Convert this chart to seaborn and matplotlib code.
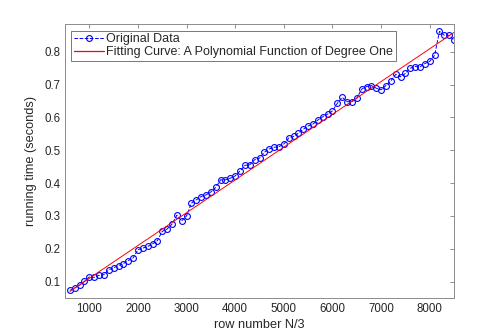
import seaborn as sns
import matplotlib.pyplot as plt
import numpy as np
import pandas as pd

# row numbers (N/3) and measured running times
row_number = list(range(600, 8600, 100))
running_time = [
    0.073, 0.081, 0.089, 0.101, 0.114, 0.113, 0.119, 0.121, 0.136, 0.142,
    0.149, 0.155, 0.164, 0.172, 0.197, 0.202, 0.207, 0.215, 0.225, 0.253,
    0.260, 0.275, 0.302, 0.285, 0.300, 0.339, 0.349, 0.359, 0.364, 0.373,
    0.387, 0.410, 0.410, 0.415, 0.422, 0.437, 0.454, 0.456, 0.471, 0.476,
    0.494, 0.504, 0.509, 0.511, 0.519, 0.537, 0.542, 0.552, 0.564, 0.574,
    0.580, 0.592, 0.602, 0.610, 0.620, 0.643, 0.661, 0.648, 0.648, 0.658,
    0.686, 0.694, 0.697, 0.689, 0.684, 0.697, 0.711, 0.731, 0.724, 0.734,
    0.750, 0.755, 0.754, 0.764, 0.771, 0.789, 0.862, 0.850, 0.850, 0.835,
]
xticks = [1000, 2000, 3000, 4000, 5000, 6000, 7000, 8000]
yticks = [0.1, 0.2, 0.3, 0.4, 0.5, 0.6, 0.7, 0.8]
labels = ["Original Data", "Fitting Curve: A Polynomial Function of Degree One"]

df = pd.DataFrame({"x": row_number, "y": running_time})
# first degree polynomial fit
p = np.polyfit(df.x, df.y, 1)
df["fit"] = np.polyval(p, df.x)

sns.set_style("white")
plt.rcParams['font.family'] = ['Liberation Sans', 'DejaVu Sans']

fig = plt.figure(figsize=(5.02, 3.35), dpi=100)
ax = fig.add_axes([0.1295, 0.1104, 0.775, 0.8165])

sns.lineplot(data=df, x="x", y="y", ax=ax, color="blue", linestyle="--",
             linewidth=0.7, marker="o", markersize=4.2, markerfacecolor="none",
             markeredgecolor="blue", markeredgewidth=0.8)
data_line = ax.lines[-1]
sns.lineplot(data=df, x="x", y="fit", ax=ax, color="red", linewidth=0.7)
fit_line = ax.lines[-1]

ax.set_xlim(500, 8500)
ax.set_ylim(0.05, 0.883)
ax.set_xticks(xticks)
ax.set_yticks(yticks)
ax.set_xticklabels([str(t) for t in xticks])
ax.set_yticklabels([f"{t:g}" for t in yticks])
ax.tick_params(direction="in", length=3, width=0.6, colors="#7a7a7a",
               labelcolor="#262626", labelsize=8.3, top=True, right=True)
for s in ax.spines.values():
    s.set_color("#8c8c8c")
    s.set_linewidth(0.7)

ax.set_xlabel("row number N/3", fontsize=9.2, color="#262626", labelpad=3)
ax.set_ylabel("running time (seconds)", fontsize=9.2, color="#262626", labelpad=5)

leg = ax.legend([data_line, fit_line], labels, loc="upper left", fontsize=9,
                frameon=True, fancybox=False, borderpad=0.2, handlelength=2.4,
                handletextpad=0.2, labelspacing=0.1, borderaxespad=0.5)
leg.get_frame().set_edgecolor("#555555")
leg.get_frame().set_linewidth(0.7)
# make sure the legend keys keep the line colours
leg_lines = leg.get_lines()
leg_lines[0].set_color("blue")
leg_lines[1].set_color("#ff0000")
leg_lines[1].set_linewidth(0.9)
leg_lines[1].set_linestyle("-")

fig.savefig("out.png", dpi=100)
